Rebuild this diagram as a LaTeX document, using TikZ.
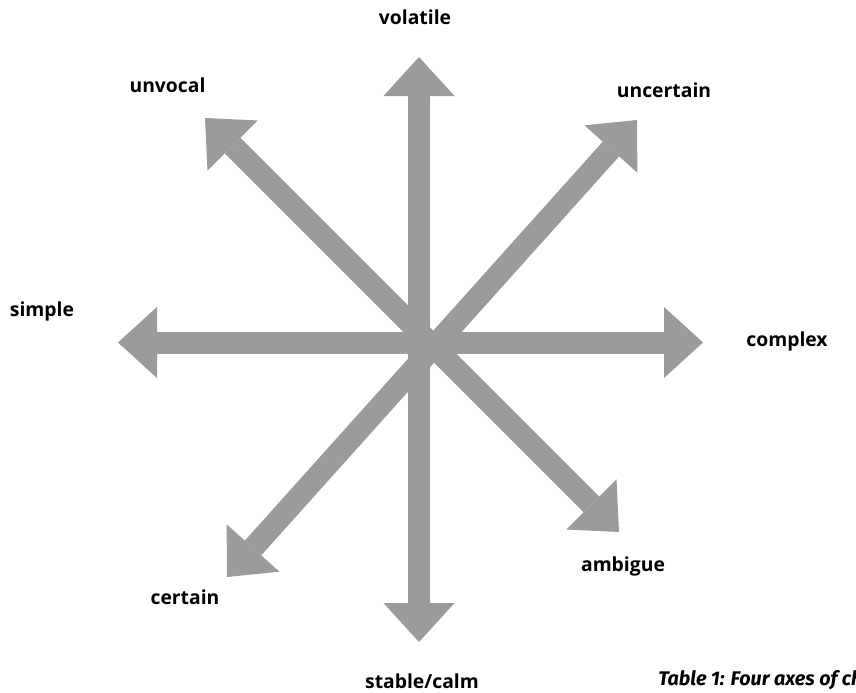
\documentclass[tikz,border=0pt]{standalone}
\usepackage{fontspec}
\setmainfont{Open Sans}
\newfontfamily\capfont{Fira Sans}
\usetikzlibrary{calc}
\definecolor{axisgray}{HTML}{9B9B9B}
\tikzset{
  shaftline/.style={draw=axisgray, line width=16.5pt, line cap=butt},
  headfill/.style={fill=axisgray, draw=none},
  axislabel/.style={font=\bfseries\fontsize{14.5}{16}\selectfont, text=black, inner sep=0pt},
  captionstyle/.style={font=\capfont\bfseries\itshape\fontsize{14.8}{16}\selectfont, text=black, inner sep=0pt, anchor=west}
}
% double arrow between two named coordinates
\newcommand{\axisarrow}[2]{%
  \coordinate (#1-b) at ($(#1)!29.25pt!(#2)$);
  \coordinate (#2-b) at ($(#2)!29.25pt!(#1)$);
  \draw[shaftline] (#1-b) -- (#2-b);
  \fill[headfill] (#1) -- ($(#1-b)!26.625pt!90:(#1)$) -- ($(#1-b)!26.625pt!-90:(#1)$) -- cycle;
  \fill[headfill] (#2) -- ($(#2-b)!26.625pt!90:(#2)$) -- ($(#2-b)!26.625pt!-90:(#2)$) -- cycle;
}
\begin{document}
\begin{tikzpicture}[x=0.75pt,y=-0.75pt]
\useasboundingbox (0,0) rectangle (856,692);
\fill[white] (0,0) rectangle (856,692);
% arrow ends
\coordinate (top) at (419,57);
\coordinate (bottom) at (419,642);
\coordinate (left) at (118,342.5);
\coordinate (right) at (703,342.5);
\coordinate (ul) at (205,118);
\coordinate (lr) at (619,532);
\coordinate (ur) at (637,120);
\coordinate (ll) at (227,577);
\axisarrow{bottom}{top}
\axisarrow{left}{right}
\axisarrow{lr}{ul}
\axisarrow{ll}{ur}
% labels
\node[axislabel] (volatile) at (415,17) {volatile};
\node[axislabel] (unvocal) at (167.5,85) {unvocal};
\node[axislabel] (uncertain) at (664,90) {uncertain};
\node[axislabel] (simple) at (42,311) {simple};
\node[axislabel] (complex) at (787,341) {complex};
\node[axislabel] (certain) at (185,597) {certain};
\node[axislabel] (ambigue) at (623,566) {ambigue};
\node[axislabel] (stable) at (422,681) {stable/calm};
\node[captionstyle] (caption) at (658,680) {Table 1: Four axes of ch};
\end{tikzpicture}
\end{document}
